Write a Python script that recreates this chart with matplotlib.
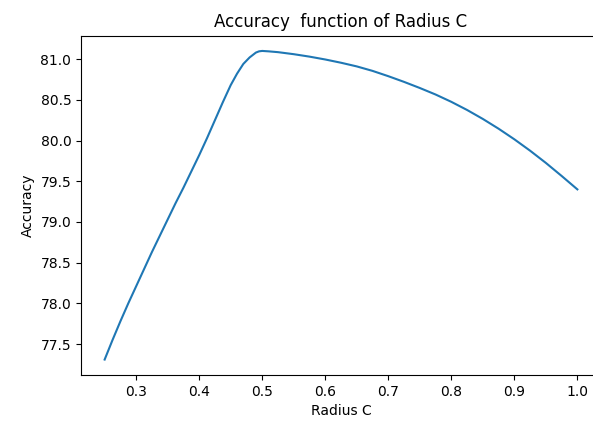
import matplotlib
matplotlib.use("Agg")
import matplotlib.pyplot as plt

# values
radius = [0.25, 0.2625, 0.275, 0.2875, 0.30, 0.3125, 0.325, 0.3375, 0.35, 0.3625,
          0.375, 0.3875, 0.40, 0.4125, 0.425, 0.4375, 0.45, 0.46, 0.465, 0.47,
          0.475, 0.48, 0.485, 0.49, 0.495, 0.50, 0.51, 0.525, 0.55, 0.575,
          0.60, 0.625, 0.65, 0.675, 0.70, 0.725, 0.75, 0.775, 0.80, 0.825,
          0.85, 0.875, 0.90, 0.925, 0.95, 0.975, 1.00]
accuracy = [77.31, 77.55, 77.78, 78.00, 78.21, 78.42, 78.63, 78.83, 79.03, 79.23,
            79.42, 79.62, 79.82, 80.03, 80.25, 80.47, 80.68, 80.82, 80.88, 80.94,
            80.98, 81.02, 81.05, 81.08, 81.095, 81.10, 81.095, 81.085, 81.06, 81.03,
            80.995, 80.955, 80.91, 80.855, 80.79, 80.72, 80.645, 80.565, 80.475, 80.375,
            80.265, 80.145, 80.015, 79.875, 79.725, 79.565, 79.40]

fig = plt.figure(figsize=(5.93, 4.23), dpi=100)
# axes run slightly past the right edge, like the cropped reference
ax = fig.add_axes([81 / 593, 48 / 423, 520 / 593, 339.5 / 423])
ax.plot(radius, accuracy)
ax.set_title("Accuracy  function of Radius C")
ax.set_xlabel("Radius C")
ax.set_ylabel("Accuracy")

fig.savefig("out.png", dpi=100)
plt.close(fig)
